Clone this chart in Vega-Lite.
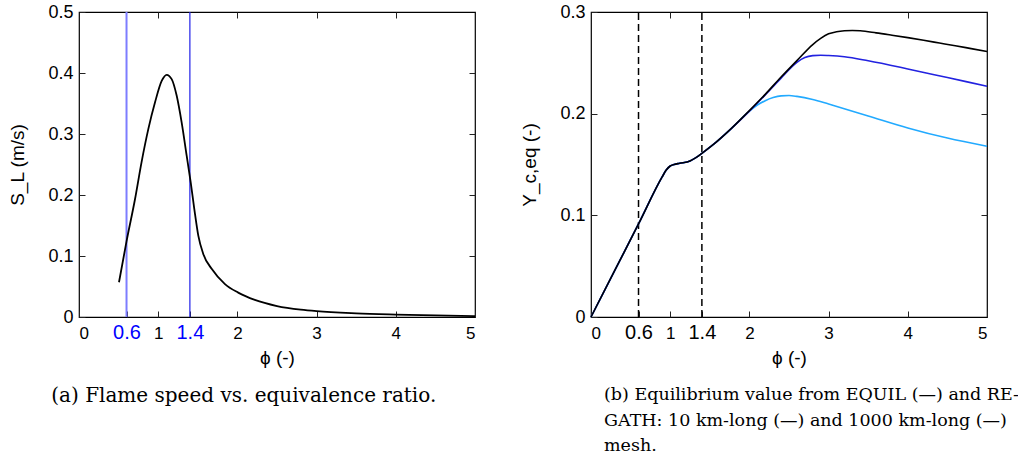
{
  "$schema": "https://vega.github.io/schema/vega-lite/v6.json",
  "padding": {"left": 8, "top": 2, "right": 0, "bottom": 0},
  "spacing": 40,
  "background": "white",
  "resolve": {"scale": {"color": "independent", "strokeWidth": "independent"}},
  "config": {
    "view": {"stroke": "black", "strokeWidth": 1.2},
    "axis": {
      "labelFont": "Liberation Sans",
      "titleFont": "Liberation Sans",
      "labelColor": "black",
      "titleColor": "black",
      "tickColor": "#222",
      "domain": false,
      "grid": false,
      "titleFontWeight": "normal",
      "titleFontSize": 19
    },
    "title": {"font": "DejaVu Serif", "fontWeight": "normal", "color": "black", "lineHeight": 25.5}
  },
  "datasets": {
    "sl": [
      {"phi": 0.505, "S": 0.057}, {"phi": 0.6, "S": 0.124}, {"phi": 0.707, "S": 0.193},
      {"phi": 0.79, "S": 0.254}, {"phi": 0.875, "S": 0.308}, {"phi": 0.96, "S": 0.352},
      {"phi": 1.044, "S": 0.387}, {"phi": 1.107, "S": 0.397}, {"phi": 1.17, "S": 0.39},
      {"phi": 1.233, "S": 0.363}, {"phi": 1.296, "S": 0.319}, {"phi": 1.36, "S": 0.264},
      {"phi": 1.41, "S": 0.221}, {"phi": 1.456, "S": 0.177}, {"phi": 1.507, "S": 0.133},
      {"phi": 1.57, "S": 0.103}, {"phi": 1.675, "S": 0.079}, {"phi": 1.843, "S": 0.054},
      {"phi": 2.01, "S": 0.04}, {"phi": 2.22, "S": 0.028}, {"phi": 2.5, "S": 0.018},
      {"phi": 2.8, "S": 0.012}, {"phi": 3.0, "S": 0.0095}, {"phi": 3.5, "S": 0.006},
      {"phi": 4.0, "S": 0.004}, {"phi": 4.5, "S": 0.0025}, {"phi": 5.0, "S": 0.0015}
    ],
    "marks": [
      {"phi": 0.6, "kind": "lean"}, {"phi": 1.4, "kind": "rich"}
    ],
    "yc": [
      {"series": "10 km", "phi": 0, "Y": 0}, {"series": "10 km", "phi": 0.6, "Y": 0.0915},
      {"series": "10 km", "phi": 0.9, "Y": 0.138}, {"series": "10 km", "phi": 0.95, "Y": 0.1445},
      {"series": "10 km", "phi": 1.0, "Y": 0.1485}, {"series": "10 km", "phi": 1.05, "Y": 0.15},
      {"series": "10 km", "phi": 1.12, "Y": 0.1512}, {"series": "10 km", "phi": 1.25, "Y": 0.1535},
      {"series": "10 km", "phi": 1.32, "Y": 0.1565}, {"series": "10 km", "phi": 1.4, "Y": 0.161},
      {"series": "10 km", "phi": 1.55, "Y": 0.17}, {"series": "10 km", "phi": 1.78, "Y": 0.186},
      {"series": "10 km", "phi": 2.0, "Y": 0.2025}, {"series": "10 km", "phi": 2.1, "Y": 0.2085},
      {"series": "10 km", "phi": 2.2, "Y": 0.2128}, {"series": "10 km", "phi": 2.3, "Y": 0.2158},
      {"series": "10 km", "phi": 2.4, "Y": 0.2175}, {"series": "10 km", "phi": 2.5, "Y": 0.2178},
      {"series": "10 km", "phi": 2.6, "Y": 0.2170}, {"series": "10 km", "phi": 2.8, "Y": 0.214},
      {"series": "10 km", "phi": 3.0, "Y": 0.2095}, {"series": "10 km", "phi": 3.5, "Y": 0.1978},
      {"series": "10 km", "phi": 4.0, "Y": 0.186}, {"series": "10 km", "phi": 4.5, "Y": 0.176},
      {"series": "10 km", "phi": 5.0, "Y": 0.168},
      {"series": "1000 km", "phi": 0, "Y": 0}, {"series": "1000 km", "phi": 0.6, "Y": 0.0915},
      {"series": "1000 km", "phi": 0.9, "Y": 0.138}, {"series": "1000 km", "phi": 0.95, "Y": 0.1445},
      {"series": "1000 km", "phi": 1.0, "Y": 0.1485}, {"series": "1000 km", "phi": 1.05, "Y": 0.15},
      {"series": "1000 km", "phi": 1.12, "Y": 0.1512}, {"series": "1000 km", "phi": 1.25, "Y": 0.1535},
      {"series": "1000 km", "phi": 1.32, "Y": 0.1565}, {"series": "1000 km", "phi": 1.4, "Y": 0.161},
      {"series": "1000 km", "phi": 1.55, "Y": 0.17}, {"series": "1000 km", "phi": 1.78, "Y": 0.186},
      {"series": "1000 km", "phi": 2.0, "Y": 0.2025}, {"series": "1000 km", "phi": 2.2, "Y": 0.2185},
      {"series": "1000 km", "phi": 2.4, "Y": 0.2350}, {"series": "1000 km", "phi": 2.6, "Y": 0.2505},
      {"series": "1000 km", "phi": 2.7, "Y": 0.2552}, {"series": "1000 km", "phi": 2.8, "Y": 0.2571},
      {"series": "1000 km", "phi": 2.9, "Y": 0.2575}, {"series": "1000 km", "phi": 3.0, "Y": 0.2572},
      {"series": "1000 km", "phi": 3.2, "Y": 0.256}, {"series": "1000 km", "phi": 3.5, "Y": 0.252},
      {"series": "1000 km", "phi": 4.0, "Y": 0.244}, {"series": "1000 km", "phi": 4.5, "Y": 0.2355},
      {"series": "1000 km", "phi": 5.0, "Y": 0.227},
      {"series": "EQUIL", "phi": 0, "Y": 0}, {"series": "EQUIL", "phi": 0.3, "Y": 0.0458},
      {"series": "EQUIL", "phi": 0.6, "Y": 0.0915}, {"series": "EQUIL", "phi": 0.9, "Y": 0.138},
      {"series": "EQUIL", "phi": 0.95, "Y": 0.1445}, {"series": "EQUIL", "phi": 1.0, "Y": 0.1485},
      {"series": "EQUIL", "phi": 1.05, "Y": 0.15}, {"series": "EQUIL", "phi": 1.12, "Y": 0.1512},
      {"series": "EQUIL", "phi": 1.25, "Y": 0.1535}, {"series": "EQUIL", "phi": 1.32, "Y": 0.1565},
      {"series": "EQUIL", "phi": 1.4, "Y": 0.161}, {"series": "EQUIL", "phi": 1.55, "Y": 0.17},
      {"series": "EQUIL", "phi": 1.78, "Y": 0.186}, {"series": "EQUIL", "phi": 2.0, "Y": 0.203},
      {"series": "EQUIL", "phi": 2.2, "Y": 0.219}, {"series": "EQUIL", "phi": 2.4, "Y": 0.236},
      {"series": "EQUIL", "phi": 2.6, "Y": 0.2522}, {"series": "EQUIL", "phi": 2.8, "Y": 0.268},
      {"series": "EQUIL", "phi": 2.9, "Y": 0.274}, {"series": "EQUIL", "phi": 3.0, "Y": 0.2785},
      {"series": "EQUIL", "phi": 3.1, "Y": 0.2805}, {"series": "EQUIL", "phi": 3.2, "Y": 0.2815},
      {"series": "EQUIL", "phi": 3.3, "Y": 0.2818}, {"series": "EQUIL", "phi": 3.4, "Y": 0.2815},
      {"series": "EQUIL", "phi": 3.6, "Y": 0.2795}, {"series": "EQUIL", "phi": 3.8, "Y": 0.2772},
      {"series": "EQUIL", "phi": 4.0, "Y": 0.2748}, {"series": "EQUIL", "phi": 4.2, "Y": 0.2722},
      {"series": "EQUIL", "phi": 4.4, "Y": 0.2695}, {"series": "EQUIL", "phi": 4.6, "Y": 0.2668},
      {"series": "EQUIL", "phi": 4.8, "Y": 0.264}, {"series": "EQUIL", "phi": 5.0, "Y": 0.2612}
    ]
  },
  "hconcat": [
    {
      "width": 396,
      "height": 305,
      "title": {"text": "(a) Flame speed vs. equivalence ratio.", "orient": "bottom", "anchor": "middle", "frame": "bounds", "offset": 19, "fontSize": 20},
      "resolve": {"axis": {"x": "independent", "y": "independent"}},
      "layer": [
        {
          "data": {"name": "marks"},
          "mark": {"type": "rule"},
          "encoding": {
            "x": {"field": "phi", "type": "quantitative", "scale": {"domain": [0, 5], "nice": false},
                  "axis": {"orient": "top", "values": [1, 2, 3, 4], "labels": false, "title": null, "tickSize": -6}},
            "y": {"datum": 0, "type": "quantitative", "scale": {"domain": [0, 0.5], "nice": false},
                  "axis": {"orient": "right", "values": [0.1, 0.2, 0.3, 0.4], "labels": false, "title": null, "tickSize": -6}},
            "y2": {"datum": 0.5},
            "color": {"field": "kind", "type": "nominal", "scale": {"domain": ["lean", "rich"], "range": ["#7d7dff", "#2020e8"]}, "legend": null},
            "strokeWidth": {"field": "kind", "type": "nominal", "scale": {"domain": ["lean", "rich"], "range": [2, 1.2]}, "legend": null}
          }
        },
        {
          "data": {"name": "sl"},
          "mark": {"type": "line", "color": "black", "strokeWidth": 1.8, "interpolate": "monotone"},
          "encoding": {
            "x": {"field": "phi", "type": "quantitative", "scale": {"domain": [0, 5], "nice": false},
                  "axis": {"orient": "bottom", "values": [0, 0.6, 1, 1.4, 2, 3, 4, 5], "format": "~g", "title": "ϕ (-)",
                           "tickSize": -6, "labelPadding": 27, "labelBaseline": "alphabetic", "titlePadding": 6,
                           "labelFontSize": {"condition": {"test": "datum.value == 0.6 || datum.value == 1.4", "value": 20}, "value": 17},
                           "labelColor": {"condition": {"test": "datum.value == 0.6 || datum.value == 1.4", "value": "#0000ff"}, "value": "black"}}},
            "y": {"field": "S", "type": "quantitative", "scale": {"domain": [0, 0.5], "nice": false},
                  "axis": {"orient": "left", "values": [0, 0.1, 0.2, 0.3, 0.4, 0.5], "format": "~g", "title": "S_L (m/s)",
                           "tickSize": -6, "labelPadding": 12, "labelFontSize": 18, "titlePadding": 20}}
          }
        }
      ]
    },
    {
      "width": 396,
      "height": 305,
      "title": {"text": ["(b) Equilibrium value from EQUIL (—) and RE-", "GATH: 10 km-long (—) and 1000 km-long (—)", "mesh."], "orient": "bottom", "anchor": "start", "frame": "group", "dx": 13, "offset": 19, "fontSize": 17.5},
      "resolve": {"axis": {"x": "independent", "y": "independent"}},
      "layer": [
        {
          "data": {"name": "marks"},
          "mark": {"type": "rule", "color": "black", "strokeWidth": 1.5, "strokeDash": [7, 4]},
          "encoding": {
            "x": {"field": "phi", "type": "quantitative", "scale": {"domain": [0, 5], "nice": false},
                  "axis": {"orient": "top", "values": [1, 2, 3, 4], "labels": false, "title": null, "tickSize": -6}},
            "y": {"datum": 0, "type": "quantitative", "scale": {"domain": [0, 0.3], "nice": false},
                  "axis": {"orient": "right", "values": [0.1, 0.2], "labels": false, "title": null, "tickSize": -6}},
            "y2": {"datum": 0.3}
          }
        },
        {
          "data": {"name": "yc"},
          "mark": {"type": "line", "strokeWidth": 1.6, "interpolate": "monotone"},
          "encoding": {
            "x": {"field": "phi", "type": "quantitative", "scale": {"domain": [0, 5], "nice": false},
                  "axis": {"orient": "bottom", "values": [0, 0.6, 1, 1.4, 2, 3, 4, 5], "format": "~g", "title": "ϕ (-)",
                           "tickSize": -6, "labelPadding": 27, "labelBaseline": "alphabetic", "titlePadding": 6,
                           "labelFontSize": {"condition": {"test": "datum.value == 0.6 || datum.value == 1.4", "value": 20}, "value": 17}}},
            "y": {"field": "Y", "type": "quantitative", "scale": {"domain": [0, 0.3], "nice": false},
                  "axis": {"orient": "left", "values": [0, 0.1, 0.2, 0.3], "format": "~g", "title": "Y_c,eq (-)",
                           "tickSize": -6, "labelPadding": 12, "labelFontSize": 18, "titlePadding": 20}},
            "color": {"field": "series", "type": "nominal", "scale": {"domain": ["10 km", "1000 km", "EQUIL"], "range": ["#22aaff", "#2222e0", "#000000"]}, "legend": null}
          }
        }
      ]
    }
  ]
}
